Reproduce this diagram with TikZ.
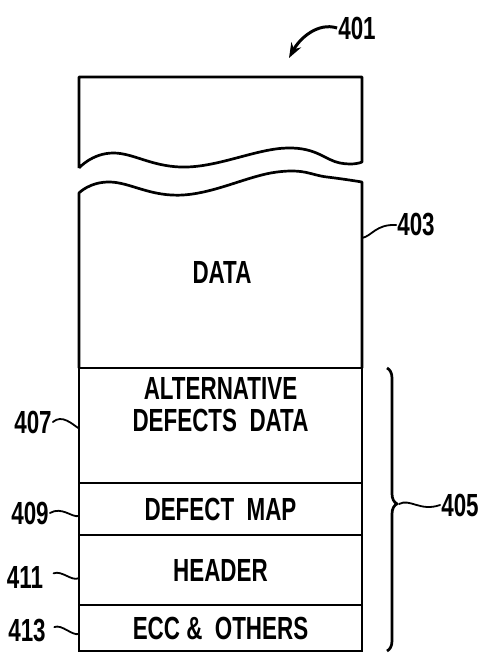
\documentclass[tikz,border=0pt]{standalone}
\usepackage{fontspec}
\newfontfamily\patfont[FakeStretch=0.7]{Liberation Sans}
\usepackage{tikz}
\usetikzlibrary{arrows.meta, positioning, decorations.pathreplacing}

\begin{document}
\begin{tikzpicture}[
    x=1pt, y=-1pt,
    outline/.style={line width=2.7pt, line join=round},
    block/.style={rectangle, draw, line width=2.7pt, outer sep=0pt, inner sep=0pt, minimum width=283pt, align=center, font=\patfont\bfseries\fontsize{32}{35}\selectfont},
    tag/.style={inner sep=1pt, font=\patfont\bfseries\fontsize{32}{35}\selectfont},
    lead/.style={line width=1.8pt, line cap=round},
    arrow/.style={line width=3pt, -{Stealth[length=15pt, width=11pt]}},
]
\useasboundingbox (0,0) rectangle (483,654);

% top piece, cut off by the wave
\draw[outline] (79,168) -- (79,77) -- (362,77) -- plot[smooth, tension=0.7] coordinates {(362,162) (340,163) (287,148) (187,167) (113,153) (79,168)};

% data area below the wave
\draw[outline] (79,368) -- plot[smooth, tension=0.7] coordinates {(79,193) (110,182) (183,195) (277,172) (327,177) (362,182)} -- (362,368);
\node[tag] (data) at (222,272) {DATA};
\coordinate (dataedge) at (362,238);

% trailing sections
\node[block, minimum height=115pt, anchor=north] (altdata) at (220.5,368) {ALTERNATIVE\\[-3pt]DEFECTS\ \ DATA\\[8pt]};
\node[block, minimum height=52pt, below=0pt of altdata] (defmap) {DEFECT\ \ MAP};
\node[block, minimum height=70pt, below=0pt of defmap] (header) {HEADER};
\node[block, minimum height=46pt, below=0pt of header] (ecc) {ECC\ \&\ \ OTHERS};

\draw[outline, decorate, decoration={brace, amplitude=10pt, aspect=0.48}] (387,368) -- (387,651);
\coordinate (bracetip) at (399,504);

% reference numerals
\node[tag] (n401) at (357,28) {401};
\node[tag] (n403) at (416,225) {403};
\node[tag] (n405) at (460,505) {405};
\node[tag] (n407) at (33,422) {407};
\node[tag] (n409) at (30,513) {409};
\node[tag] (n411) at (25,577) {411};
\node[tag] (n413) at (27,630) {413};
\coordinate (aim) at (289,58);

\draw[arrow] (n401.west) .. controls (318,22) and (300,38) .. (aim);
\draw[lead] (dataedge) .. controls (372,236) and (376,224) .. (n403.west);
\draw[lead] (bracetip) .. controls (410,498) and (420,512) .. (n405.west);
\draw[lead] (n407.east) .. controls (62,414) and (72,424) .. ([yshift=-3pt]altdata.west);
\draw[lead] (n409.east) .. controls (62,506) and (72,518) .. ([yshift=-7pt]defmap.west);
\draw[lead, shorten <=10pt] (n411.east) .. controls (62,570) and (72,582) .. ([yshift=-8pt]header.west);
\draw[lead, shorten <=8pt] (n413.east) .. controls (62,624) and (72,636) .. ([yshift=-6pt]ecc.west);
\end{tikzpicture}
\end{document}
